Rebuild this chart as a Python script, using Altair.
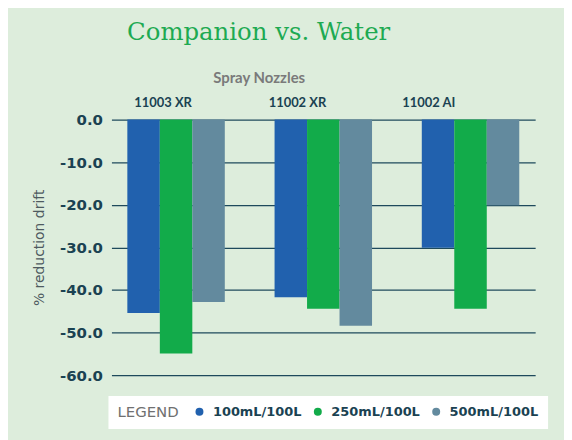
import altair as alt
import pandas as pd

nozzles = ["11003 XR", "11002 XR", "11002 AI"]
doses = ["100mL/100L", "250mL/100L", "500mL/100L"]
vals_100 = [-45.4, -41.7, -30.1]
vals_250 = [-54.9, -44.4, -44.4]
vals_500 = [-42.8, -48.4, -20.1]
y_ticks = [0, -10, -20, -30, -40, -50, -60]
colors = ["#2161AE", "#12AB4A", "#638A9E"]

rows = []
for dose, vals in zip(doses, [vals_100, vals_250, vals_500]):
    for n, v in zip(nozzles, vals):
        rows.append({"nozzle": n, "dose": dose, "value": v})
df = pd.DataFrame(rows)

dark = "#1A4252"

chart = alt.Chart(df).mark_bar().encode(
    x=alt.X("nozzle:N", sort=nozzles,
            scale=alt.Scale(paddingInner=0.338, paddingOuter=0.108),
            axis=alt.Axis(orient="top", title="Spray Nozzles", ticks=False, domain=False,
                          labelAngle=0, labelFont="Lato", labelFontSize=13,
                          labelFontWeight="bold", labelColor=dark, labelPadding=10,
                          labelOffset={"condition": [
                              {"test": "datum.index < 0.25", "value": -13},
                              {"test": "datum.index < 0.75", "value": -26}],
                              "value": -42},
                          titleFont="Lato", titleFontSize=15, titleFontWeight="bold",
                          titleColor="#7A7A7A", titleX=148, titleY=-37,
                          titleAnchor="middle", titleBaseline="alphabetic")),
    xOffset=alt.XOffset("dose:N", sort=doses, scale=alt.Scale(paddingInner=0, paddingOuter=0)),
    y=alt.Y("value:Q", scale=alt.Scale(domain=[-60, 0], nice=False),
            axis=alt.Axis(values=y_ticks, title="% reduction drift", ticks=False, domain=False,
                          labelFont="DejaVu Sans", labelFontSize=15, labelFontWeight="bold",
                          labelColor=dark, labelPadding=9,
                          labelExpr="replace(format(datum.value, '.1f'), '\u2212', '-')",
                          gridColor="#1E4A5C", gridWidth=1.2,
                          titleFont="DejaVu Sans", titleFontSize=14, titleFontWeight="normal",
                          titleColor="#4E5A60", titlePadding=13)),
    color=alt.Color("dose:N", sort=doses, scale=alt.Scale(domain=doses, range=colors),
                    legend=alt.Legend(title="LEGEND", orient="none", legendX=-3, legendY=278,
                                      direction="horizontal", titleOrient="left",
                                      titleFont="DejaVu Sans", titleFontSize=15,
                                      titleFontWeight="normal", titleColor="#707070",
                                      titlePadding=14, titleBaseline="middle",
                                      labelFont="DejaVu Sans", labelFontSize=13,
                                      labelFontWeight="bold", labelColor=dark,
                                      labelOffset=7, columnPadding=9,
                                      symbolType="circle", symbolSize=64,
                                      symbolStrokeWidth=0, fillColor="white",
                                      padding=9)),
).properties(
    width=426, height=257,
    title=alt.Title("Companion vs. Water", font="DejaVu Serif", fontSize=24.5,
                    fontWeight="normal", color="#1DAA52", anchor="middle", dx=-65, offset=25),
    autosize=alt.AutoSizeParams(type="none"),
    padding={"left": 104, "top": 111, "right": 29, "bottom": 64},
).configure(background="#DDEDDC").configure_view(stroke=None)

chart.save("out.html", embed_options={"renderer": "svg", "actions": False})
